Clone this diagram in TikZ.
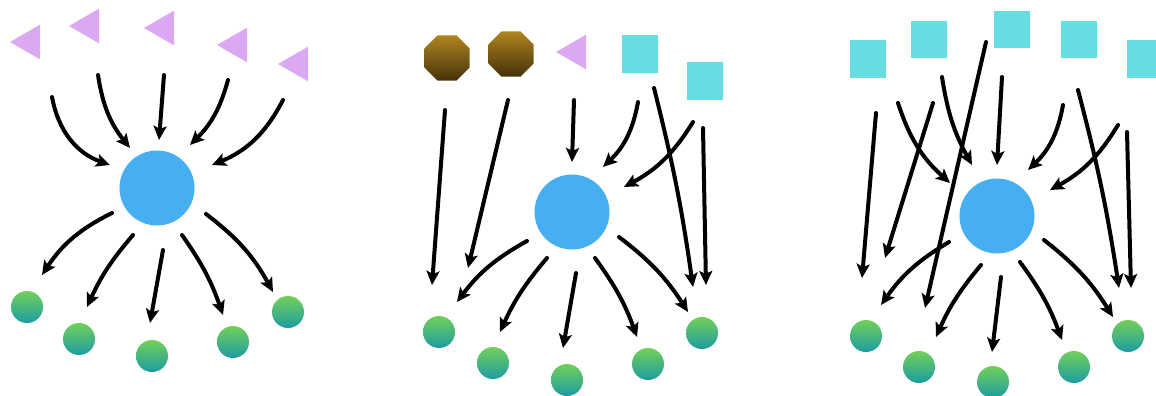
\documentclass[tikz,border=0pt]{standalone}
\usetikzlibrary{arrows.meta,shapes.geometric}
\definecolor{lav}{HTML}{DDA8F2}
\definecolor{cyanbox}{HTML}{66DDE3}
\definecolor{hub}{HTML}{48AEF2}
\definecolor{gtop}{HTML}{72D05A}
\definecolor{gbot}{HTML}{1C9CA2}
\definecolor{otop}{HTML}{B08420}
\definecolor{obot}{HTML}{45320A}
\tikzset{
  arr/.style={line width=4pt, line cap=round, -{Stealth[length=14pt,width=13pt,inset=3pt]}},
  tri/.style={regular polygon, regular polygon sides=3, shape border rotate=90, minimum size=40pt, inner sep=0pt, outer sep=0pt, fill=lav},
  oct/.style={regular polygon, regular polygon sides=8, minimum size=49pt, inner sep=0pt, outer sep=0pt, top color=otop, bottom color=obot},
  sq/.style={rectangle, minimum width=36pt, minimum height=37pt, inner sep=0pt, outer sep=0pt, fill=cyanbox},
  hubc/.style={circle, minimum size=75pt, inner sep=0pt, fill=hub},
  leaf/.style={circle, minimum size=32pt, inner sep=0pt, top color=gtop, bottom color=gbot}
}
\begin{document}
\begin{tikzpicture}[x=1pt,y=-1pt]
\useasboundingbox (0,0) rectangle (1156,396);
% ---------------- Panel 1 ----------------
\node[tri] (t1) at (30,42) {};
\node[tri] (t2) at (89,26) {};
\node[tri] (t3) at (164,28) {};
\node[tri] (t4) at (237,45) {};
\node[tri] (t5) at (298,64) {};
\node[hubc] (h1) at (157,188) {};
\node[leaf] (g11) at (27,307) {};
\node[leaf] (g12) at (79,339) {};
\node[leaf] (g13) at (152,356) {};
\node[leaf] (g14) at (233,342) {};
\node[leaf] (g15) at (288,312) {};
\coordinate (a1s) at (52,97);  \coordinate (a1e) at (110,165);
\coordinate (a2s) at (98,75);  \coordinate (a2e) at (130,148);
\coordinate (a3s) at (164,75); \coordinate (a3e) at (159,140);
\coordinate (a4s) at (228,80); \coordinate (a4e) at (190,145);
\coordinate (a5s) at (283,100);\coordinate (a5e) at (212,165);
\draw[arr] (a1s) to[bend right=30] (a1e);
\draw[arr] (a2s) to[bend right=15] (a2e);
\draw[arr] (a3s) -- (a3e);
\draw[arr] (a4s) to[bend left=15] (a4e);
\draw[arr] (a5s) to[bend left=20] (a5e);
\coordinate (b1s) at (112,213); \coordinate (b1e) at (42,275);
\coordinate (b2s) at (133,235); \coordinate (b2e) at (87,307);
\coordinate (b3s) at (163,250); \coordinate (b3e) at (150,323);
\coordinate (b4s) at (182,235); \coordinate (b4e) at (223,315);
\coordinate (b5s) at (206,214); \coordinate (b5e) at (273,292);
\draw[arr] (b1s) to[bend right=15] (b1e);
\draw[arr] (b2s) to[bend right=8] (b2e);
\draw[arr] (b3s) -- (b3e);
\draw[arr] (b4s) to[bend left=8] (b4e);
\draw[arr] (b5s) to[bend left=12] (b5e);
% ---------------- Panel 2 ----------------
\node[oct] (o1) at (447,58) {};
\node[oct] (o2) at (511,54) {};
\node[tri] (t6) at (576,52) {};
\node[sq] (q1) at (640,54) {};
\node[sq] (q2) at (705,81) {};
\node[hubc] (h2) at (572,212) {};
\node[leaf] (g21) at (439,332) {};
\node[leaf] (g22) at (493,363) {};
\node[leaf] (g23) at (567,380) {};
\node[leaf] (g24) at (648,364) {};
\node[leaf] (g25) at (702,333) {};
\coordinate (c1s) at (445,110); \coordinate (c1e) at (432,285);
\coordinate (c2s) at (508,100); \coordinate (c2e) at (468,268);
\coordinate (c3s) at (574,100); \coordinate (c3e) at (572,162);
\coordinate (c4s) at (638,102); \coordinate (c4e) at (603,167);
\coordinate (c5s) at (693,122); \coordinate (c5e) at (624,187);
\coordinate (c6s) at (654,88);  \coordinate (c6e) at (693,287);
\coordinate (c7s) at (703,128); \coordinate (c7e) at (706,285);
\draw[arr] (c1s) -- (c1e);
\draw[arr] (c2s) -- (c2e);
\draw[arr] (c3s) -- (c3e);
\draw[arr] (c4s) to[bend left=18] (c4e);
\draw[arr] (c5s) to[bend left=15] (c5e);
\draw[arr] (c6s) to[bend left=3] (c6e);
\draw[arr] (c7s) -- (c7e);
\coordinate (d1s) at (527,241); \coordinate (d1e) at (457,302);
\coordinate (d2s) at (547,258); \coordinate (d2e) at (500,332);
\coordinate (d3s) at (576,273); \coordinate (d3e) at (563,348);
\coordinate (d4s) at (595,258); \coordinate (d4e) at (637,337);
\coordinate (d5s) at (619,237); \coordinate (d5e) at (688,312);
\draw[arr] (d1s) to[bend right=12] (d1e);
\draw[arr] (d2s) to[bend right=8] (d2e);
\draw[arr] (d3s) -- (d3e);
\draw[arr] (d4s) to[bend left=8] (d4e);
\draw[arr] (d5s) to[bend left=10] (d5e);
% ---------------- Panel 3 ----------------
\node[sq] (s1) at (868,59) {};
\node[sq] (s2) at (929,40) {};
\node[sq] (s3) at (1012,30) {};
\node[sq] (s4) at (1079,40) {};
\node[sq] (s5) at (1145,59) {};
\node[hubc] (h3) at (997,216) {};
\node[leaf] (g31) at (866,336) {};
\node[leaf] (g32) at (919,367) {};
\node[leaf] (g33) at (993,382) {};
\node[leaf] (g34) at (1074,367) {};
\node[leaf] (g35) at (1128,336) {};
\coordinate (f1s) at (876,113);  \coordinate (f1e) at (862,278);
\coordinate (f2s) at (898,103);  \coordinate (f2e) at (950,183);
\coordinate (f3s) at (933,103);  \coordinate (f3e) at (885,258);
\coordinate (f4s) at (942,77);   \coordinate (f4e) at (972,165);
\coordinate (f5s) at (986,42);   \coordinate (f5e) at (925,308);
\coordinate (f6s) at (1002,77);  \coordinate (f6e) at (997,165);
\coordinate (f7s) at (1063,105); \coordinate (f7e) at (1028,170);
\coordinate (f8s) at (1078,90);  \coordinate (f8e) at (1119,288);
\coordinate (f9s) at (1118,125); \coordinate (f9e) at (1050,190);
\coordinate (f10s) at (1127,132);\coordinate (f10e) at (1131,288);
\draw[arr] (f1s) -- (f1e);
\draw[arr] (f2s) to[bend right=15] (f2e);
\draw[arr] (f3s) -- (f3e);
\draw[arr] (f4s) to[bend right=10] (f4e);
\draw[arr] (f5s) -- (f5e);
\draw[arr] (f6s) -- (f6e);
\draw[arr] (f7s) to[bend left=18] (f7e);
\draw[arr] (f8s) to[bend left=3] (f8e);
\draw[arr] (f9s) to[bend left=15] (f9e);
\draw[arr] (f10s) -- (f10e);
\coordinate (k1s) at (949,242);  \coordinate (k1e) at (881,305);
\coordinate (k2s) at (981,265);  \coordinate (k2e) at (936,337);
\coordinate (k3s) at (1001,277); \coordinate (k3e) at (992,352);
\coordinate (k4s) at (1020,262); \coordinate (k4e) at (1062,340);
\coordinate (k5s) at (1044,240); \coordinate (k5e) at (1113,317);
\draw[arr] (k1s) to[bend right=12] (k1e);
\draw[arr] (k2s) to[bend right=8] (k2e);
\draw[arr] (k3s) -- (k3e);
\draw[arr] (k4s) to[bend left=8] (k4e);
\draw[arr] (k5s) to[bend left=10] (k5e);
\end{tikzpicture}
\end{document}
